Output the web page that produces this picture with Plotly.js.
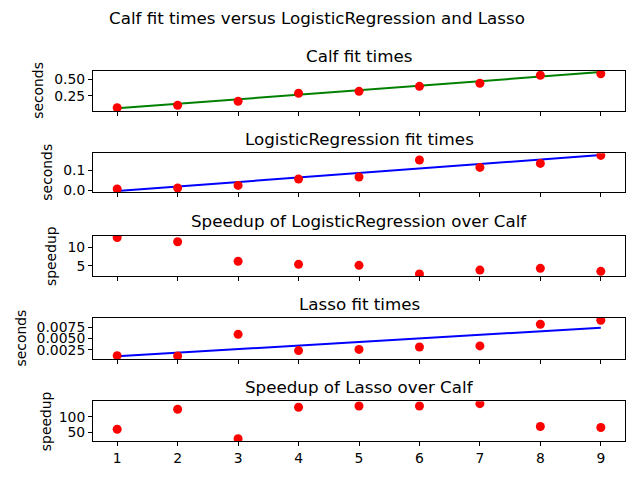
<!DOCTYPE html>
<html>
<head>
<meta charset="utf-8">
<script src="https://cdn.plot.ly/plotly-3.0.1.min.js"></script>
<style>
  html, body { margin: 0; padding: 0; background: #fff; }
  #chart { width: 640px; height: 480px; }
</style>
</head>
<body>
<div id="chart"></div>
<script>
// x positions shared by every panel
const runs = [1, 2, 3, 4, 5, 6, 7, 8, 9];
const fitX = [1, 9];

// values
const calfTimes  = [0.067, 0.104, 0.165, 0.287, 0.317, 0.393, 0.439, 0.561, 0.585];
const calfFit    = [0.058, 0.610];
const logregTimes = [0.005, 0.010, 0.023, 0.055, 0.065, 0.150, 0.113, 0.133, 0.173];
const logregFit   = [-0.005, 0.175];
const logregSpeedup = [12.6, 11.5, 6.26, 5.45, 5.18, 2.85, 3.9, 4.37, 3.56];
const lassoTimes = [0.00118, 0.00112, 0.00588, 0.0023, 0.00257, 0.0031, 0.00333, 0.0081, 0.00899];
const lassoFit   = [0.00105, 0.00735];
const lassoSpeedup = [59.6, 123.5, 29.6, 130, 134, 134, 141.5, 68.4, 65.3];

const panelTitles = [
  'Calf fit times',
  'LogisticRegression fit times',
  'Speedup of LogisticRegression over Calf',
  'Lasso fit times',
  'Speedup of Lasso over Calf'
];
const panelYLabels = ['seconds', 'seconds', 'speedup', 'seconds', 'speedup'];
const panelTicks = [
  [0.25, 0.5],
  [0.0, 0.1],
  [5, 10],
  [0.0025, 0.005, 0.0075],
  [50, 100]
];
const panelTickText = [
  ['0.25', '0.50'],
  ['0.0', '0.1'],
  ['5', '10'],
  ['0.0025', '0.0050', '0.0075'],
  ['50', '100']
];
const panelRanges = [
  [0.017, 0.631],
  [-0.01, 0.1835],
  [2.32, 13.03],
  [0.00045, 0.00949],
  [22.2, 149]
];

// pixel geometry (from top of 640x480 figure)
const W = 640, H = 480;
const axLeft = 93, axRight = 625;
const axTops = [70.7, 153.3, 236, 318, 401.3];
const axBottoms = [111, 192, 276, 359, 441];
const titleY = [56, 139, 220.7, 304, 386.7];
const ylabelX = [38, 47, 51, 20, 46];

const font = 'DejaVu Sans, sans-serif';

function dots(y, i) {
  return {
    type: 'scatter', mode: 'markers', x: runs, y: y,
    xaxis: i === 1 ? 'x' : 'x' + i, yaxis: i === 1 ? 'y' : 'y' + i,
    marker: {color: '#ff0000', size: 9}, showlegend: false, hoverinfo: 'x+y'
  };
}
function fit(y, i, color) {
  return {
    type: 'scatter', mode: 'lines', x: fitX, y: y,
    xaxis: i === 1 ? 'x' : 'x' + i, yaxis: i === 1 ? 'y' : 'y' + i,
    line: {color: color, width: 2}, showlegend: false
  };
}

const data = [
  fit(calfFit, 1, '#008000'), dots(calfTimes, 1),
  fit(logregFit, 2, '#0000ff'), dots(logregTimes, 2),
  dots(logregSpeedup, 3),
  fit(lassoFit, 4, '#0000ff'), dots(lassoTimes, 4),
  dots(lassoSpeedup, 5)
];

const layout = {
  width: W, height: H,
  margin: {l: 0, r: 0, t: 0, b: 0},
  paper_bgcolor: '#ffffff', plot_bgcolor: '#ffffff',
  font: {family: font, size: 13.9, color: '#000000'},
  showlegend: false,
  annotations: [{
    text: 'Calf fit times versus LogisticRegression and Lasso',
    xref: 'paper', yref: 'paper', x: 317 / W, y: 1 - 18 / H,
    xanchor: 'center', yanchor: 'middle', showarrow: false,
    font: {family: font, size: 16.7}
  }]
};

for (let k = 0; k < 5; k++) {
  const i = k + 1;
  const xa = i === 1 ? 'xaxis' : 'xaxis' + i;
  const ya = i === 1 ? 'yaxis' : 'yaxis' + i;
  layout[xa] = {
    domain: [axLeft / W, axRight / W],
    anchor: i === 1 ? 'y' : 'y' + i,
    range: [0.6, 9.4],
    tickmode: 'array', tickvals: runs,
    showticklabels: i === 5,
    ticks: 'outside', ticklen: 4, tickwidth: 1, tickcolor: '#000',
    showline: true, mirror: true, linecolor: '#000', linewidth: 1,
    showgrid: false, zeroline: false,
    tickfont: {family: font, size: 13.9}
  };
  layout[ya] = {
    domain: [1 - axBottoms[k] / H, 1 - axTops[k] / H],
    anchor: i === 1 ? 'x' : 'x' + i,
    range: panelRanges[k],
    tickmode: 'array', tickvals: panelTicks[k], ticktext: panelTickText[k],
    ticks: 'outside', ticklen: 4, tickwidth: 1, tickcolor: '#000',
    showline: true, mirror: true, linecolor: '#000', linewidth: 1,
    showgrid: false, zeroline: false,
    tickfont: {family: font, size: 13.9}
  };
  layout.annotations.push({
    text: panelTitles[k], xref: 'paper', yref: 'paper',
    x: (axLeft + axRight) / 2 / W, y: 1 - titleY[k] / H,
    xanchor: 'center', yanchor: 'middle', showarrow: false,
    font: {family: font, size: 16.7}
  });
  layout.annotations.push({
    text: panelYLabels[k], xref: 'paper', yref: 'paper',
    x: ylabelX[k] / W, y: 1 - (axTops[k] + axBottoms[k]) / 2 / H,
    xanchor: 'center', yanchor: 'middle', textangle: -90, showarrow: false,
    font: {family: font, size: 13.9}
  });
}

Plotly.newPlot('chart', data, layout, {displayModeBar: false, staticPlot: true});
</script>
</body>
</html>
